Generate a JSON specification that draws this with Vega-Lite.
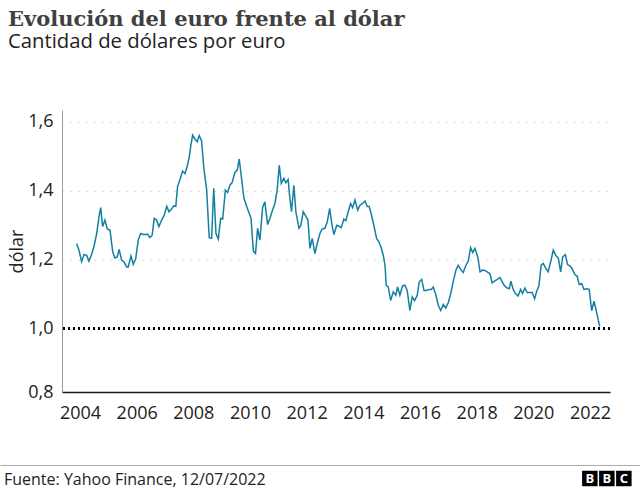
{
  "$schema": "https://vega.github.io/schema/vega-lite/v6.json",
  "background": "white",
  "padding": {"left": 0, "right": 0, "top": 8, "bottom": 0},
  "title": {
    "text": "Evolución del euro frente al dólar",
    "subtitle": "Cantidad de dólares por euro",
    "anchor": "start",
    "frame": "group",
    "dx": 8,
    "font": "DejaVu Serif",
    "fontSize": 21,
    "fontWeight": "bold",
    "color": "#404040",
    "subtitleFont": "Open Sans",
    "subtitleFontSize": 20.3,
    "subtitleColor": "#222222",
    "subtitlePadding": 2,
    "offset": 58
  },
  "datasets": {
    "euro": [
      {"fecha": "2003-11-18", "valor": 1.247},
      {"fecha": "2003-12-18", "valor": 1.228},
      {"fecha": "2004-01-22", "valor": 1.194},
      {"fecha": "2004-02-21", "valor": 1.215},
      {"fecha": "2004-03-26", "valor": 1.213},
      {"fecha": "2004-04-25", "valor": 1.196},
      {"fecha": "2004-05-29", "valor": 1.215},
      {"fecha": "2004-06-28", "valor": 1.237},
      {"fecha": "2004-08-03", "valor": 1.276},
      {"fecha": "2004-09-02", "valor": 1.325},
      {"fecha": "2004-09-24", "valor": 1.351},
      {"fecha": "2004-10-19", "valor": 1.296},
      {"fecha": "2004-11-18", "valor": 1.315},
      {"fecha": "2004-12-17", "valor": 1.289},
      {"fecha": "2005-01-22", "valor": 1.286},
      {"fecha": "2005-02-26", "valor": 1.223},
      {"fecha": "2005-03-25", "valor": 1.205},
      {"fecha": "2005-04-25", "valor": 1.208},
      {"fecha": "2005-05-20", "valor": 1.230},
      {"fecha": "2005-06-20", "valor": 1.199},
      {"fecha": "2005-07-20", "valor": 1.194},
      {"fecha": "2005-08-24", "valor": 1.179},
      {"fecha": "2005-09-14", "valor": 1.179},
      {"fecha": "2005-10-19", "valor": 1.211},
      {"fecha": "2005-11-18", "valor": 1.187},
      {"fecha": "2005-12-19", "valor": 1.203},
      {"fecha": "2006-01-21", "valor": 1.257},
      {"fecha": "2006-02-22", "valor": 1.276},
      {"fecha": "2006-03-25", "valor": 1.273},
      {"fecha": "2006-04-29", "valor": 1.273},
      {"fecha": "2006-05-21", "valor": 1.274},
      {"fecha": "2006-06-20", "valor": 1.264},
      {"fecha": "2006-07-19", "valor": 1.271},
      {"fecha": "2006-08-15", "valor": 1.320},
      {"fecha": "2006-09-15", "valor": 1.315},
      {"fecha": "2006-10-14", "valor": 1.296},
      {"fecha": "2006-11-19", "valor": 1.315},
      {"fecha": "2006-12-22", "valor": 1.329},
      {"fecha": "2007-01-23", "valor": 1.355},
      {"fecha": "2007-02-21", "valor": 1.339},
      {"fecha": "2007-03-26", "valor": 1.347},
      {"fecha": "2007-04-25", "valor": 1.356},
      {"fecha": "2007-05-20", "valor": 1.355},
      {"fecha": "2007-06-12", "valor": 1.412},
      {"fecha": "2007-07-11", "valor": 1.431},
      {"fecha": "2007-08-16", "valor": 1.457},
      {"fecha": "2007-09-15", "valor": 1.450},
      {"fecha": "2007-10-14", "valor": 1.470},
      {"fecha": "2007-11-10", "valor": 1.499},
      {"fecha": "2007-12-01", "valor": 1.532},
      {"fecha": "2007-12-23", "valor": 1.561},
      {"fecha": "2008-01-22", "valor": 1.550},
      {"fecha": "2008-02-21", "valor": 1.542},
      {"fecha": "2008-03-17", "valor": 1.560},
      {"fecha": "2008-04-17", "valor": 1.544},
      {"fecha": "2008-05-16", "valor": 1.465},
      {"fecha": "2008-06-21", "valor": 1.402},
      {"fecha": "2008-07-24", "valor": 1.264},
      {"fecha": "2008-08-24", "valor": 1.262},
      {"fecha": "2008-09-20", "valor": 1.407},
      {"fecha": "2008-10-19", "valor": 1.276},
      {"fecha": "2008-11-18", "valor": 1.260},
      {"fecha": "2008-12-19", "valor": 1.320},
      {"fecha": "2009-01-14", "valor": 1.318},
      {"fecha": "2009-02-17", "valor": 1.402},
      {"fecha": "2009-03-18", "valor": 1.395},
      {"fecha": "2009-04-17", "valor": 1.416},
      {"fecha": "2009-05-16", "valor": 1.424},
      {"fecha": "2009-06-20", "valor": 1.453},
      {"fecha": "2009-07-20", "valor": 1.460},
      {"fecha": "2009-08-15", "valor": 1.492},
      {"fecha": "2009-09-16", "valor": 1.431},
      {"fecha": "2009-10-15", "valor": 1.378},
      {"fecha": "2009-11-19", "valor": 1.354},
      {"fecha": "2009-12-18", "valor": 1.337},
      {"fecha": "2010-01-14", "valor": 1.320},
      {"fecha": "2010-02-13", "valor": 1.225},
      {"fecha": "2010-03-13", "valor": 1.218},
      {"fecha": "2010-04-09", "valor": 1.291},
      {"fecha": "2010-05-08", "valor": 1.257},
      {"fecha": "2010-06-12", "valor": 1.351},
      {"fecha": "2010-07-11", "valor": 1.368},
      {"fecha": "2010-08-16", "valor": 1.302},
      {"fecha": "2010-09-15", "valor": 1.320},
      {"fecha": "2010-10-19", "valor": 1.344},
      {"fecha": "2010-11-18", "valor": 1.363},
      {"fecha": "2010-12-17", "valor": 1.402},
      {"fecha": "2011-01-13", "valor": 1.474},
      {"fecha": "2011-02-08", "valor": 1.421},
      {"fecha": "2011-03-13", "valor": 1.436},
      {"fecha": "2011-04-08", "valor": 1.423},
      {"fecha": "2011-05-07", "valor": 1.433},
      {"fecha": "2011-05-29", "valor": 1.380},
      {"fecha": "2011-06-20", "valor": 1.339},
      {"fecha": "2011-07-20", "valor": 1.416},
      {"fecha": "2011-08-15", "valor": 1.339},
      {"fecha": "2011-09-24", "valor": 1.291},
      {"fecha": "2011-10-19", "valor": 1.300},
      {"fecha": "2011-11-18", "valor": 1.339},
      {"fecha": "2011-12-19", "valor": 1.327},
      {"fecha": "2012-01-18", "valor": 1.315},
      {"fecha": "2012-02-13", "valor": 1.233},
      {"fecha": "2012-03-13", "valor": 1.262},
      {"fecha": "2012-04-17", "valor": 1.218},
      {"fecha": "2012-05-16", "valor": 1.247},
      {"fecha": "2012-06-20", "valor": 1.276},
      {"fecha": "2012-07-19", "valor": 1.289},
      {"fecha": "2012-08-24", "valor": 1.291},
      {"fecha": "2012-09-23", "valor": 1.310},
      {"fecha": "2012-10-24", "valor": 1.349},
      {"fecha": "2012-11-23", "valor": 1.300},
      {"fecha": "2012-12-18", "valor": 1.273},
      {"fecha": "2013-01-23", "valor": 1.300},
      {"fecha": "2013-02-22", "valor": 1.297},
      {"fecha": "2013-03-21", "valor": 1.293},
      {"fecha": "2013-04-25", "valor": 1.318},
      {"fecha": "2013-05-20", "valor": 1.313},
      {"fecha": "2013-06-20", "valor": 1.339},
      {"fecha": "2013-07-21", "valor": 1.363},
      {"fecha": "2013-08-16", "valor": 1.351},
      {"fecha": "2013-09-15", "valor": 1.373},
      {"fecha": "2013-10-20", "valor": 1.344},
      {"fecha": "2013-11-19", "valor": 1.358},
      {"fecha": "2013-12-23", "valor": 1.363},
      {"fecha": "2014-01-22", "valor": 1.370},
      {"fecha": "2014-02-21", "valor": 1.354},
      {"fecha": "2014-03-17", "valor": 1.354},
      {"fecha": "2014-04-17", "valor": 1.329},
      {"fecha": "2014-05-16", "valor": 1.300},
      {"fecha": "2014-06-21", "valor": 1.262},
      {"fecha": "2014-07-20", "valor": 1.252},
      {"fecha": "2014-08-16", "valor": 1.237},
      {"fecha": "2014-09-15", "valor": 1.213},
      {"fecha": "2014-10-07", "valor": 1.184},
      {"fecha": "2014-10-23", "valor": 1.126},
      {"fecha": "2014-11-18", "valor": 1.121},
      {"fecha": "2014-12-19", "valor": 1.082},
      {"fecha": "2015-01-22", "valor": 1.107},
      {"fecha": "2015-02-23", "valor": 1.097},
      {"fecha": "2015-03-18", "valor": 1.121},
      {"fecha": "2015-04-17", "valor": 1.097},
      {"fecha": "2015-05-21", "valor": 1.124},
      {"fecha": "2015-06-20", "valor": 1.126},
      {"fecha": "2015-07-20", "valor": 1.111},
      {"fecha": "2015-08-24", "valor": 1.053},
      {"fecha": "2015-09-23", "valor": 1.092},
      {"fecha": "2015-10-24", "valor": 1.082},
      {"fecha": "2015-11-27", "valor": 1.097},
      {"fecha": "2015-12-22", "valor": 1.136},
      {"fecha": "2016-01-23", "valor": 1.143},
      {"fecha": "2016-02-22", "valor": 1.111},
      {"fecha": "2016-03-26", "valor": 1.111},
      {"fecha": "2016-04-29", "valor": 1.114},
      {"fecha": "2016-05-26", "valor": 1.114},
      {"fecha": "2016-06-20", "valor": 1.121},
      {"fecha": "2016-07-25", "valor": 1.097},
      {"fecha": "2016-08-24", "valor": 1.068},
      {"fecha": "2016-09-24", "valor": 1.053},
      {"fecha": "2016-10-28", "valor": 1.070},
      {"fecha": "2016-11-28", "valor": 1.060},
      {"fecha": "2017-01-01", "valor": 1.076},
      {"fecha": "2017-02-01", "valor": 1.102},
      {"fecha": "2017-03-04", "valor": 1.136},
      {"fecha": "2017-04-09", "valor": 1.170},
      {"fecha": "2017-05-08", "valor": 1.184},
      {"fecha": "2017-06-08", "valor": 1.172},
      {"fecha": "2017-07-11", "valor": 1.163},
      {"fecha": "2017-08-16", "valor": 1.184},
      {"fecha": "2017-09-15", "valor": 1.196},
      {"fecha": "2017-10-15", "valor": 1.235},
      {"fecha": "2017-11-11", "valor": 1.221},
      {"fecha": "2017-12-10", "valor": 1.233},
      {"fecha": "2018-01-15", "valor": 1.208},
      {"fecha": "2018-02-14", "valor": 1.165},
      {"fecha": "2018-03-18", "valor": 1.170},
      {"fecha": "2018-04-17", "valor": 1.169},
      {"fecha": "2018-05-16", "valor": 1.165},
      {"fecha": "2018-06-20", "valor": 1.160},
      {"fecha": "2018-07-20", "valor": 1.133},
      {"fecha": "2018-08-24", "valor": 1.139},
      {"fecha": "2018-09-23", "valor": 1.143},
      {"fecha": "2018-10-28", "valor": 1.148},
      {"fecha": "2018-11-27", "valor": 1.136},
      {"fecha": "2018-12-27", "valor": 1.124},
      {"fecha": "2019-01-31", "valor": 1.118},
      {"fecha": "2019-02-26", "valor": 1.116},
      {"fecha": "2019-03-18", "valor": 1.138},
      {"fecha": "2019-04-17", "valor": 1.114},
      {"fecha": "2019-05-17", "valor": 1.102},
      {"fecha": "2019-06-20", "valor": 1.095},
      {"fecha": "2019-07-21", "valor": 1.114},
      {"fecha": "2019-08-16", "valor": 1.102},
      {"fecha": "2019-09-15", "valor": 1.118},
      {"fecha": "2019-10-15", "valor": 1.105},
      {"fecha": "2019-11-19", "valor": 1.105},
      {"fecha": "2019-12-18", "valor": 1.105},
      {"fecha": "2020-01-19", "valor": 1.087},
      {"fecha": "2020-02-14", "valor": 1.109},
      {"fecha": "2020-03-13", "valor": 1.124},
      {"fecha": "2020-04-12", "valor": 1.184},
      {"fecha": "2020-05-08", "valor": 1.189},
      {"fecha": "2020-06-12", "valor": 1.174},
      {"fecha": "2020-07-11", "valor": 1.165},
      {"fecha": "2020-08-12", "valor": 1.194},
      {"fecha": "2020-09-15", "valor": 1.228},
      {"fecha": "2020-10-15", "valor": 1.213},
      {"fecha": "2020-11-18", "valor": 1.205},
      {"fecha": "2020-12-19", "valor": 1.165},
      {"fecha": "2021-01-14", "valor": 1.208},
      {"fecha": "2021-02-17", "valor": 1.215},
      {"fecha": "2021-03-18", "valor": 1.186},
      {"fecha": "2021-04-17", "valor": 1.182},
      {"fecha": "2021-05-16", "valor": 1.174},
      {"fecha": "2021-06-20", "valor": 1.157},
      {"fecha": "2021-07-20", "valor": 1.152},
      {"fecha": "2021-08-15", "valor": 1.128},
      {"fecha": "2021-09-16", "valor": 1.131},
      {"fecha": "2021-10-15", "valor": 1.114},
      {"fecha": "2021-11-19", "valor": 1.116},
      {"fecha": "2021-12-22", "valor": 1.114},
      {"fecha": "2022-01-23", "valor": 1.052},
      {"fecha": "2022-02-22", "valor": 1.080},
      {"fecha": "2022-03-26", "valor": 1.049},
      {"fecha": "2022-05-06", "valor": 1.007}
    ],
    "logo": [
      {"n": 1, "letra": "B"},
      {"n": 2, "letra": "B"},
      {"n": 3, "letra": "C"}
    ]
  },
  "spacing": 43,
  "vconcat": [
    {
      "spacing": 7,
      "hconcat": [
        {
          "width": 1,
          "height": 1,
          "data": {"values": []},
          "mark": "point"
        },
        {
          "width": 548,
          "height": 282,
          "data": {"name": "euro"},
          "layer": [
            {
              "mark": {"type": "line", "color": "#1380A1", "strokeWidth": 1.5},
              "encoding": {
                "x": {
                  "field": "fecha",
                  "type": "temporal",
                  "scale": {
                    "type": "utc",
                    "domain": [
                      {"year": 2003, "month": 5, "date": 14, "utc": true},
                      {"year": 2022, "month": 9, "date": 16, "utc": true}
                    ]
                  },
                  "axis": {
                    "title": null,
                    "format": "%Y",
                    "values": [
                      {"year": 2004, "utc": true}, {"year": 2006, "utc": true},
                      {"year": 2008, "utc": true}, {"year": 2010, "utc": true},
                      {"year": 2012, "utc": true}, {"year": 2014, "utc": true},
                      {"year": 2016, "utc": true}, {"year": 2018, "utc": true},
                      {"year": 2020, "utc": true}, {"year": 2022, "utc": true}
                    ],
                    "grid": false,
                    "ticks": false,
                    "labelFlush": false,
                    "labelPadding": 12,
                    "labelFontSize": 18,
                    "labelColor": "#222222",
                    "domainColor": "#1a1a1a",
                    "domainWidth": 1.5
                  }
                },
                "y": {
                  "field": "valor",
                  "type": "quantitative",
                  "scale": {"domain": [0.8166, 1.634], "nice": false, "zero": false},
                  "axis": {
                    "title": "dólar",
                    "values": [0.8166, 1, 1.2, 1.4, 1.6],
                    "labelExpr": "datum.value < 0.9 ? '0,8' : replace(format(datum.value, '.1f'), '.', ',')",
                    "ticks": false,
                    "grid": true,
                    "gridColor": "#bbbbbb",
                    "gridDash": [1, 7],
                    "domainColor": "#999999",
                    "labelFontSize": 18,
                    "labelPadding": 9,
                    "labelColor": "#222222",
                    "titleFontSize": 18,
                    "titleFontWeight": "normal",
                    "titleColor": "#222222",
                    "titlePadding": 1
                  }
                }
              }
            },
            {
              "mark": {"type": "rule", "color": "black", "strokeWidth": 2, "strokeDash": [2, 3]},
              "encoding": {"y": {"datum": 1}}
            }
          ]
        }
      ]
    },
    {
      "width": 640,
      "height": 15,
      "data": {"name": "logo"},
      "title": {
        "text": "Fuente: Yahoo Finance, 12/07/2022",
        "orient": "bottom",
        "anchor": "start",
        "frame": "group",
        "dx": 4,
        "offset": -14,
        "font": "Open Sans",
        "fontSize": 16,
        "fontWeight": "normal",
        "color": "#222222"
      },
      "encoding": {
        "x": {
          "field": "n",
          "type": "quantitative",
          "scale": {"domain": [-33.7, 3.95], "nice": false, "zero": false},
          "axis": {
            "orient": "top",
            "title": null,
            "labels": false,
            "ticks": false,
            "grid": false,
            "offset": 6,
            "domainColor": "#aaaaaa"
          }
        }
      },
      "layer": [
        {"mark": {"type": "point", "shape": "square", "filled": true, "opacity": 1, "color": "black", "size": 240}},
        {
          "mark": {"type": "text", "color": "white", "font": "Open Sans", "fontWeight": "bold", "fontSize": 13},
          "encoding": {"text": {"field": "letra"}}
        }
      ]
    }
  ],
  "config": {
    "font": "Open Sans",
    "view": {"stroke": null}
  }
}
